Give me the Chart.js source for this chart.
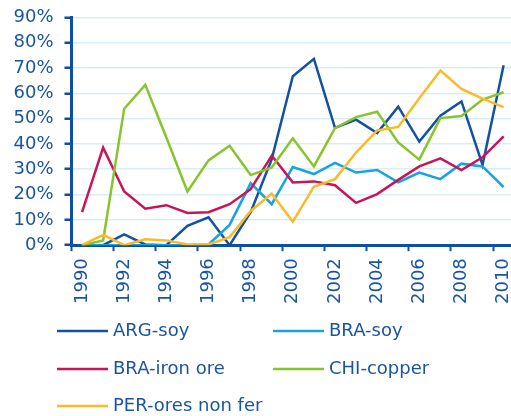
<!DOCTYPE html>
<html><head><meta charset="utf-8">
<script src="https://cdn.jsdelivr.net/npm/chart.js@4"></script>
<style>html,body{margin:0;padding:0;background:#fff;overflow:hidden}</style>
</head><body>
<canvas id="c" width="511" height="416"></canvas>
<script>
const years = [1990,1991,1992,1993,1994,1995,1996,1997,1998,1999,2000,2001,2002,2003,2004,2005,2006,2007,2008,2009,2010];
const argSoy   = [0,0,4.3,0.3,0,7.6,11.0,0,13,34,66.7,73.6,46.3,49.6,44.3,54.7,40.9,51.1,56.8,31.7,71.1];
const braSoy   = [0,0,0,0,0,0,0.3,8.0,24.5,16.2,30.9,28.1,32.5,28.7,29.7,24.8,28.7,26.1,32.2,31.1,22.9];
const braIron  = [13.1,38.5,21.2,14.4,15.8,12.7,13.0,16.2,22.1,35.4,24.8,25.2,23.7,16.7,20.2,25.8,31.1,34.3,29.7,34.7,43.0];
const chiCopper= [0,1.9,53.9,63.3,42.5,21.2,33.5,39.3,27.7,30.7,42.2,31.1,46.2,50.6,52.7,40.6,33.8,50.2,51.0,57.5,60.4];
const perOres  = [0,4.1,0,2.3,1.9,0.3,0.3,3.2,13.5,20.4,9.3,23.1,26.1,36.6,45.3,46.7,58,69.0,61.7,57.9,54.5];
const seriesNames = ['ARG-soy','BRA-soy','BRA-iron ore','CHI-copper','PER-ores non fer'];
const seriesColors = ['#1351a2','#17a2e2','#c8145a','#87c42d','#fcb928'];
const xTickYears = [1990,1992,1994,1996,1998,2000,2002,2004,2006,2008,2010];
const yTickValues = [0,10,20,30,40,50,60,70,80,90];

const TEXT = '#1a55a3';
const AXIS = '#0f4fa3';
const FONT = {family: '"DejaVu Sans", Verdana, sans-serif', size: 18};
const allSeries = [argSoy, braSoy, braIron, chiCopper, perOres];

const legendPlugin = {
  id: 'gridLegend',
  afterDraw(chart) {
    const ctx = chart.ctx;
    const cols = [57, 273];
    const rows = [331, 369, 406];
    ctx.save();
    ctx.font = '18px "DejaVu Sans", Verdana, sans-serif';
    ctx.textBaseline = 'middle';
    ctx.textAlign = 'left';
    chart.data.datasets.forEach((ds, i) => {
      const x = cols[i % 2], y = rows[Math.floor(i / 2)];
      ctx.strokeStyle = ds.borderColor;
      ctx.lineWidth = 2.5;
      ctx.beginPath(); ctx.moveTo(x, y); ctx.lineTo(x + 51, y); ctx.stroke();
      ctx.fillStyle = TEXT;
      ctx.fillText(ds.label, x + 56, y);
    });
    ctx.restore();
  }
};

new Chart(document.getElementById('c'), {
  type: 'line',
  data: {
    datasets: allSeries.map((arr, i) => ({
      label: seriesNames[i],
      data: years.map((yr, j) => ({x: yr, y: arr[j]})),
      borderColor: seriesColors[i],
      backgroundColor: seriesColors[i],
      borderWidth: 2.5,
      pointRadius: 0,
      tension: 0,
      fill: false,
      order: 5 - i
    }))
  },
  options: {
    responsive: false,
    devicePixelRatio: 1,
    animation: false,
    layout: {padding: {left: 12, top: 17.3, right: 0, bottom: 105}},
    plugins: {legend: {display: false}, tooltip: {enabled: false}},
    scales: {
      x: {
        type: 'linear',
        min: 1989.5,
        max: 2010.35,
        afterBuildTicks: s => { s.ticks = xTickYears.map(y => ({value: y - 0.5})); },
        afterFit: s => { s.paddingLeft = 0; s.paddingRight = 0; },
        ticks: {
          callback: v => String(v + 0.5),
          autoSkip: false,
          minRotation: 90,
          maxRotation: 90,
          labelOffset: 10.5,
          padding: 7,
          font: FONT,
          color: TEXT
        },
        grid: {drawOnChartArea: false, tickLength: 6, tickColor: AXIS, tickWidth: 2},
        border: {color: AXIS, width: 3}
      },
      y: {
        min: 0,
        max: 90,
        afterBuildTicks: s => { s.ticks = yTickValues.map(v => ({value: v})); },
        afterFit: s => { s.width = 59.5; s.paddingTop = 0; s.paddingBottom = 0; },
        ticks: {callback: v => v + '%', autoSkip: false, padding: 11, font: FONT, color: TEXT},
        grid: {color: '#d9edf9', lineWidth: 1.5, tickLength: 7, tickColor: AXIS, tickWidth: 2.5},
        border: {color: AXIS, width: 3}
      }
    }
  },
  plugins: [legendPlugin]
});
</script>
</body></html>
